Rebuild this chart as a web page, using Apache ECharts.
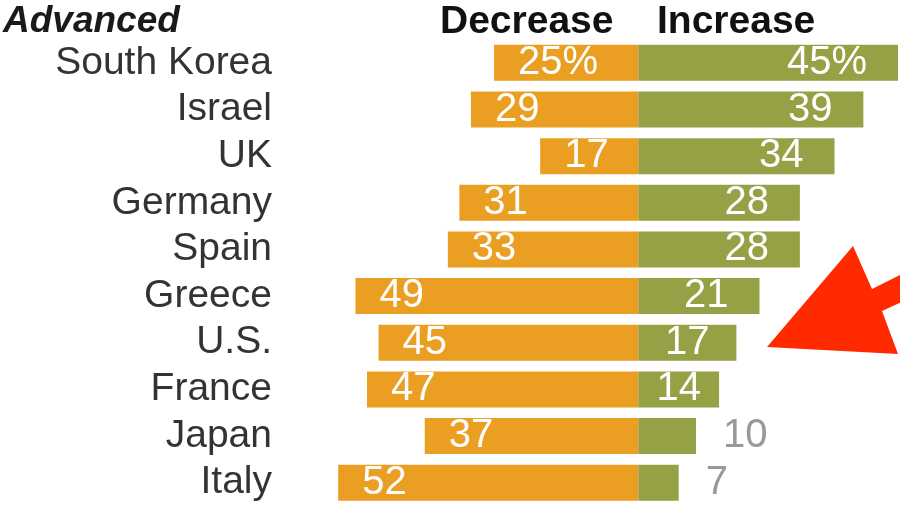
<!DOCTYPE html>
<html>
<head>
<meta charset="utf-8">
<title>Advanced economies: decrease vs increase</title>
<script src="https://cdn.jsdelivr.net/npm/echarts@6/dist/echarts.min.js"></script>
<style>
  html, body { margin: 0; padding: 0; background: #fff; }
  #chart { width: 900px; height: 506px; }
</style>
</head>
<body>
<div id="chart"></div>
<script>
// Countries, top to bottom
var countries = ['South Korea', 'Israel', 'UK', 'Germany', 'Spain', 'Greece', 'U.S.', 'France', 'Japan', 'Italy'];
// Share saying "decrease" (%)
var decrease = [25, 29, 17, 31, 33, 49, 45, 47, 37, 52];
// Share saying "increase" (%)
var increase = [45, 39, 34, 28, 28, 21, 17, 14, 10, 7];

var FONT = '"Liberation Sans", Arial, sans-serif';
var ORANGE = '#EA9F22';
var GREEN = '#96A044';

// Horizontal layout of the value axis
var gridLeft = 292, gridWidth = 606;
var xMin = -60, xMax = 45;
var pxPerUnit = gridWidth / (xMax - xMin);
var labelSize = 40;

var chart = echarts.init(document.getElementById('chart'), null, { renderer: 'canvas' });

// Measures label width so short bars get a centred label
var ctx = document.createElement('canvas').getContext('2d');
ctx.font = labelSize + 'px ' + FONT;

function fmt(v, i) { return i === 0 ? v + '%' : String(v); }

var decData = decrease.map(function (v, i) {
  return { value: -v, label: { formatter: fmt(v, i) } };
});

var incData = increase.map(function (v, i) {
  var text = fmt(v, i);
  var barLen = v * pxPerUnit;
  var w = ctx.measureText(text).width;
  if (barLen < w + 20) {
    // Too short: value sits beside the bar in grey
    return { value: v, label: { formatter: text, position: 'right', distance: 27, color: '#999999' } };
  }
  var d = Math.min(31, (barLen - w) / 2);
  return { value: v, label: { formatter: text, position: 'insideRight', distance: d } };
});

var option = {
  animation: false,
  backgroundColor: '#ffffff',
  grid: { left: gridLeft, width: gridWidth, top: 39.5, height: 471, containLabel: false },
  xAxis: {
    type: 'value', min: xMin, max: xMax,
    show: false, splitLine: { show: false }
  },
  yAxis: {
    type: 'category', data: countries, inverse: true,
    axisLine: { show: false }, axisTick: { show: false },
    axisLabel: { interval: 0, fontFamily: FONT, fontSize: 39, color: '#333333', margin: 20 }
  },
  series: [
    {
      name: 'Decrease', type: 'bar', data: decData,
      barWidth: 36, barGap: '-100%',
      itemStyle: { color: ORANGE },
      label: { show: true, position: 'insideLeft', distance: 24, color: '#ffffff', fontFamily: FONT, fontSize: labelSize }
    },
    {
      name: 'Increase', type: 'bar', data: incData,
      barWidth: 36, barGap: '-100%',
      itemStyle: { color: GREEN },
      label: { show: true, color: '#ffffff', fontFamily: FONT, fontSize: labelSize }
    }
  ],
  graphic: [
    {
      type: 'text', left: 3, top: 3,
      style: { text: 'Advanced', font: 'italic bold 37px ' + FONT, fill: '#1a1a1a' }
    },
    {
      type: 'text', left: 440, top: 3,
      style: { text: 'Decrease', font: 'bold 39px ' + FONT, fill: '#111111' }
    },
    {
      type: 'text', left: 657, top: 3,
      style: { text: 'Increase', font: 'bold 39px ' + FONT, fill: '#111111' }
    },
    {
      // Red call-out arrow pointing at the U.S. row
      type: 'polygon', z: 100,
      shape: { points: [[767, 347], [853, 246], [872, 289], [906, 272], [906, 300], [882, 311], [898, 354]] },
      style: { fill: '#FF2A00' }
    }
  ]
};

chart.setOption(option);
</script>
</body>
</html>
